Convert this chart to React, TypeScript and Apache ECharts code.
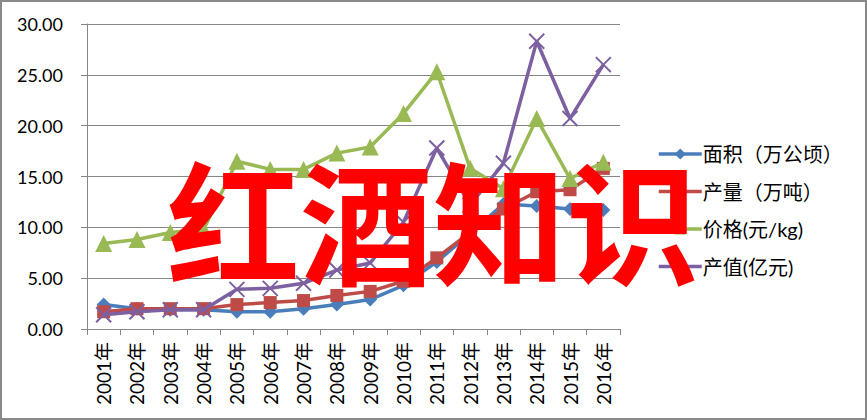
import React, { useEffect, useRef } from "react";
import * as echarts from "echarts";

const years = ["2001年","2002年","2003年","2004年","2005年","2006年","2007年","2008年","2009年","2010年","2011年","2012年","2013年","2014年","2015年","2016年"];
const seriesNames = ["面积（万公顷）", "产量（万吨）", "价格(元/kg)", "产值(亿元)"];
const area = [2.4, 2.0, 1.9, 1.9, 1.7, 1.7, 2.0, 2.4, 2.9, 4.3, 6.6, 9.4, 12.3, 12.1, 11.8, 11.7];
const output = [1.7, 2.0, 2.0, 2.0, 2.4, 2.6, 2.8, 3.3, 3.7, 4.7, 7.0, 9.5, 11.8, 13.5, 13.7, 15.8];
const price = [8.4, 8.8, 9.5, 9.8, 16.5, 15.7, 15.7, 17.3, 17.9, 21.2, 25.3, 15.8, 13.8, 20.7, 14.8, 16.4];
const value = [1.4, 1.7, 1.9, 1.9, 3.9, 4.0, 4.5, 5.8, 6.5, 10.5, 17.8, 12.2, 16.3, 28.3, 20.7, 26.0];
const watermark = "红酒知识";

const colors = ["#4A7EBB", "#BE4B48", "#98B954", "#7D60A0"];
const symbols = ["diamond", "rect", "triangle", "path://M0,0L20,20M20,0L0,20"];
const symbolSizes = [14, 13, 17, 15];

export default function App() {
  const ref = useRef<HTMLDivElement>(null);
  useEffect(() => {
    if (!ref.current) return;
    const chart = echarts.init(ref.current, undefined, { renderer: "svg" });
    const datasets = [area, output, price, value];
    chart.setOption({
      animation: false,
      backgroundColor: "#fff",
      grid: { left: 87, right: 247, top: 24, bottom: 91, containLabel: false },
      legend: {
        orient: "vertical",
        left: 652,
        top: 139,
        itemWidth: 43,
        itemHeight: 14,
        itemGap: 17.5,
        data: seriesNames,
        lineStyle: { width: 3.5 },
        textStyle: { fontSize: 20, lineHeight: 20, color: "#000", fontFamily: "Lato, 'Noto Sans CJK SC'", padding: [0, 0, 0, -4] },
      },
      xAxis: {
        type: "category",
        data: years,
        boundaryGap: true,
        axisLine: { lineStyle: { color: "#868686", width: 1 } },
        axisTick: { show: true, length: 6, alignWithLabel: false, lineStyle: { color: "#868686" } },
        axisLabel: { rotate: 90, margin: 13, fontSize: 19, color: "#000", fontFamily: "Lato, 'Noto Sans CJK SC'", interval: 0 },
        splitLine: { show: false },
      },
      yAxis: {
        type: "value",
        min: 0,
        max: 30,
        interval: 5,
        axisLine: { show: true, lineStyle: { color: "#868686", width: 1 } },
        axisTick: { show: true, length: 6, lineStyle: { color: "#868686" } },
        axisLabel: { margin: 24, fontSize: 18, color: "#000", fontFamily: "Lato", formatter: (v: number) => v.toFixed(2) },
        splitLine: { show: true, lineStyle: { color: "#868686", width: 1 } },
      },
      series: seriesNames.map((name, i) => ({
        name,
        type: "line",
        data: datasets[i],
        symbol: symbols[i],
        symbolSize: symbolSizes[i],
        showAllSymbol: true,
        lineStyle: { color: colors[i], width: 3.5 },
        itemStyle: i === 3
          ? { color: colors[i], borderColor: colors[i], borderWidth: 2 }
          : { color: colors[i], borderWidth: 0 },
        z: 2 + i,
      })),
      graphic: [
        {
          type: "rect",
          shape: { x: 1, y: 1, width: 865, height: 418 },
          style: { fill: "none", stroke: "#898989", lineWidth: 2 },
          z: 100,
        },
        {
          type: "text",
          x: 433,
          y: 217,
          z: 200,
          style: {
            text: watermark,
            fill: "#FF0000",
            font: "bold 133px 'Noto Sans CJK SC'",
            textAlign: "center",
            textVerticalAlign: "middle",
          },
        },
      ],
    });
    return () => chart.dispose();
  }, []);
  return <div ref={ref} style={{ position: "fixed", left: 0, top: 0, width: 867, height: 420 }} />;
}
